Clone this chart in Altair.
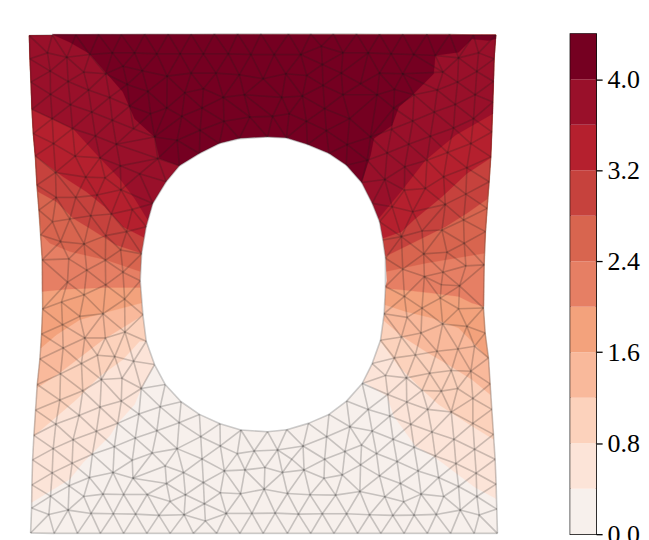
import altair as alt
import pandas as pd

# Colour-bar levels and colours
LEVELS = [0.0, 0.4, 0.8, 1.2, 1.6, 2.0, 2.4, 2.8, 3.2, 3.6, 4.0, 4.4]
COLORS = ["#f7f0ec", "#fce4d8", "#fcd2bc", "#f9b99b", "#f3a27c", "#e67f64",
          "#d8654f", "#c6423d", "#b5202e", "#99102a", "#750021"]
TICKS = [0.0, 0.8, 1.6, 2.4, 3.2, 4.0]

# Coordinates: crop-relative, three crop origins
TL = (20, 20); TR = (260, 20); BL = (20, 275); BR = (260, 275)

LEFT_TOP = [(28,40),(30,110),(33,180),(36,262),(40,335),(46,402),(51,490),(57,565),(62,640),(67,715)]
LEFT_BOT = [(68,98),(65,173),(60,248),(52,325),(47,402),(42,478),(38,552),(36,627),(35,697),(32,772)]
RIGHT_TOP = [(712,38),(707,110),(705,178),(703,240),(700,330),(697,405),(692,480),(686,560),(681,630),(677,730)]
RIGHT_BOT = [(675,95),(680,170),(690,245),(695,323),(700,400),(705,475),(710,550),(713,625),(715,700),(717,773)]
TOP_L = [(97,38),(168,38),(236,37),(305,37),(375,36),(446,36),(515,36),(585,35),(655,35),(725,35)]
TOP_R = [(88,35),(155,35),(223,35),(293,35),(362,36),(432,36),(505,36),(573,36),(645,39)]
BOT_L = [(103,773),(173,773),(242,773),(312,773),(382,773),(452,773),(522,773),(592,773),(662,773),(732,773)]
BOT_R = [(85,773),(155,773),(225,773),(296,773),(366,773),(436,773),(506,773),(576,773),(647,773)]
HOLE_TL = [(745,345),(660,350),(600,365),(540,395),(480,432),(440,480),(400,545),(380,615),(366,697),(362,778)]
HOLE_BL = [(370,115),(380,195),(405,265),(437,325),(485,377),(540,415),(602,443),(665,462),(745,467)]
HOLE_BR = [(83,461),(148,442),(210,415),(263,375),(310,322),(340,262),(365,192),(376,112),(380,30)]
HOLE_TR = [(383,778),(380,710),(372,655),(362,600),(340,545),(308,482),(262,430),(210,395),(145,368),(82,348)]

NODES_TL = [(83,92),(141,105),(210,97),(278,92),(345,92),(412,95),(482,95),(552,95),(627,95),(695,97),
 (91,147),(192,150),(258,155),(310,132),(368,146),(443,162),(515,153),(590,153),(660,158),(732,170),
 (92,217),(145,178),(206,204),(270,226),(323,187),(385,208),(496,212),(552,200),(612,226),(675,218),
 (97,290),(152,248),(216,270),(278,295),(330,252),(393,275),(442,258),(487,283),(548,258),(614,298),(692,285),
 (101,365),(158,320),(227,342),(290,367),(342,320),(405,345),(473,355),(542,325),
 (166,403),(241,408),(302,432),(360,456),(415,410),(107,452),(198,466),(256,468),
 (109,527),(168,527),(232,520),(304,504),(430,472),(150,592),(98,600),(213,582),(275,577),(338,563),
 (258,642),(321,630),(122,660),(193,667),(147,712),(257,716),(303,685),(201,746),(310,752)]
NODES_TR = [(45,97),(125,97),(187,72),(252,92),(328,92),(397,95),(465,97),(530,100),(600,107),(660,92),
 (12,170),(80,155),(143,160),(190,127),(247,153),(305,185),(362,153),(432,155),(553,150),(655,148),
 (68,226),(130,222),(192,190),(252,218),(355,218),(407,202),(466,218),(536,204),(597,180),(650,218),
 (90,275),(197,260),(272,290),(405,258),(527,270),(590,247),(645,290),
 (40,283),(142,298),(202,326),(335,345),(398,322),(462,297),(585,318),(515,343),
 (265,368),(325,415),(385,393),(450,367),(567,392),(637,365),
 (378,473),(438,435),(505,415),(625,438),(555,465),
 (400,555),(437,505),(500,500),(622,517),(560,548),
 (462,570),(428,645),(490,628),(550,625),(615,595),
 (495,697),(565,692),(617,665),(432,743),(497,765),(553,752),(622,733)]
NODES_BL = [(143,17),(258,25),(125,77),(193,55),(315,68),(180,120),(250,112),(128,145),(195,185),(257,185),(316,167),
 (130,215),(233,237),(285,241),(342,255),(185,262),(122,293),(245,310),(307,306),(365,337),
 (189,344),(120,372),(241,393),(305,375),(422,392),(178,418),(108,444),(294,442),(358,414),(479,440),
 (230,466),(160,491),(100,518),(347,486),(412,464),(544,482),(284,512),(218,535),(157,562),(97,591),
 (338,553),(398,531),(473,518),(603,510),(280,590),(209,605),(148,630),(92,661),(340,607),(437,570),(492,590),
 (548,549),(654,533),(705,525),(250,655),(192,662),(87,716),(145,703),(312,656),(383,656),(441,623),(552,620),
 (615,585),(677,582),(735,640),(498,657),(603,651),(664,654),(452,677),(555,684),(214,713),(281,714),(348,715),
 (418,719),(494,717),(558,736),(621,713),(698,713)]
NODES_BR = [(490,20),(548,25),(603,28),(437,60),(545,65),(600,97),(490,95),(445,123),(552,143),(625,150),
 (428,182),(487,170),(535,225),(598,218),(648,210),(407,245),(470,236),(380,298),(443,305),(513,291),(578,283),(637,285),
 (387,355),(490,343),(548,345),(597,337),(643,367),(328,400),(444,378),(507,400),(578,408),(393,420),(456,445),(643,442),
 (273,452),(340,465),(403,490),(520,468),(586,490),(648,520),(203,482),(132,510),(55,522),(258,527),(308,507),(353,533),
 (466,514),(530,540),(592,563),(653,592),(197,550),(98,550),(305,567),(415,557),(478,585),(540,605),(600,632),(655,662),
 (135,582),(70,590),(17,575),(250,597),(195,607),(362,600),(425,623),(15,640),(85,653),(153,657),(230,658),(303,647),
 (378,663),(435,678),(487,655),(555,662),(605,703),(662,718),(48,712),(118,715),(190,714),(263,714),(332,717),(402,719),
 (466,718),(533,716)]


def z(org, pts):
    return [(org[0] + a / 3, org[1] + b / 3) for a, b in pts]


CONTOURS = {
 0.4: (z(BL,[(35,680),(150,610),(190,560),(270,480),(294,442),(345,385),(365,337),(405,265)]),
       z(BR,[(310,315),(385,360),(405,420),(470,510),(530,545),(590,590),(650,635),(712,668)])),
 0.8: (z(BL,[(42,480),(100,430),(170,370),(240,300),(310,250),(360,195)]),
       z(BR,[(365,195),(420,270),(490,340),(540,385),(640,450),(705,490)])),
 1.2: (z(BL,[(52,335),(120,290),(185,240),(250,190),(316,150),(372,115)]),
       z(BR,[(372,130),(430,180),(500,225),(560,260),(640,310),(695,355)])),
 1.6: (z(BL,[(63,215),(110,175),(180,130),(250,110),(365,80)]),
       z(BR,[(378,85),(440,105),(520,125),(600,155),(640,195),(688,245)])),
 2.0: (z(BL,[(67,45),(140,38),(260,33),(362,33)]),
       z(BR,[(380,35),(430,40),(520,50),(600,60),(640,80),(676,90)])),
 2.4: (z(TL,[(66,640),(90,665),(150,690),(260,715),(362,750)]),
       z(TR,[(382,750),(500,725),(620,705),(677,695)])),
 2.8: (z(TL,[(55,510),(110,540),(160,590),(210,620),(290,670),(366,695)]),
       z(TR,[(378,705),(470,660),(560,615),(625,575),(686,532)])),
 3.2: (z(TL,[(46,402),(130,465),(200,510),(255,555),(310,615),(378,650)]),
       z(TR,[(372,650),(428,630),(465,595),(550,525),(625,455),(697,408)])),
 3.6: (z(TL,[(36,262),(160,320),(240,408),(300,470),(345,530),(385,595)]),
       z(TR,[(358,592),(430,505),(500,415),(590,340),(703,275)])),
 4.0: (z(TL,[(97,36),(150,60),(210,95),(258,150),(310,210),(345,290),(405,345),(420,410),(480,432)]),
       z(TR,[(308,482),(335,400),(345,350),(400,310),(420,255),(465,215),(525,155),(530,100),(600,90),(640,50),(690,55),(712,50)])),
}

left_edge = z(TL, LEFT_TOP) + z(BL, LEFT_BOT)
right_edge = z(TR, RIGHT_TOP) + z(BR, RIGHT_BOT)
top_edge = z(TL, TOP_L) + z(TR, TOP_R)
bot_edge = z(BL, BOT_L) + z(BR, BOT_R)
body = left_edge + bot_edge + right_edge[::-1] + top_edge[::-1]
hole = z(TL, HOLE_TL) + z(BL, HOLE_BL) + z(BR, HOLE_BR) + z(TR, HOLE_TR)


def inside(p, poly):
    x, y = p
    c = False
    n = len(poly)
    for i in range(n):
        x1, y1 = poly[i]
        x2, y2 = poly[(i + 1) % n]
        if (y1 > y) != (y2 > y) and x < (x2 - x1) * (y - y1) / (y2 - y1) + x1:
            c = not c
    return c


# Merge nodes seen in two crops
raw = left_edge + right_edge + top_edge + bot_edge + hole
raw += z(TL, NODES_TL) + z(TR, NODES_TR) + z(BL, NODES_BL) + z(BR, NODES_BR)
nodes = []
for p in raw:
    if all((p[0] - q[0]) ** 2 + (p[1] - q[1]) ** 2 > 7.5 ** 2 for q in nodes):
        nodes.append(p)


def delaunay(pts):
    P = list(pts) + [(-5000, -5000), (6000, -5000), (300, 8000)]
    n = len(pts)
    tris = [(n, n + 1, n + 2)]

    def incirc(t, p):
        ax, ay = P[t[0]][0] - p[0], P[t[0]][1] - p[1]
        bx, by = P[t[1]][0] - p[0], P[t[1]][1] - p[1]
        cx, cy = P[t[2]][0] - p[0], P[t[2]][1] - p[1]
        d = ((ax * ax + ay * ay) * (bx * cy - cx * by)
             - (bx * bx + by * by) * (ax * cy - cx * ay)
             + (cx * cx + cy * cy) * (ax * by - bx * ay))
        o = ((P[t[1]][0] - P[t[0]][0]) * (P[t[2]][1] - P[t[0]][1])
             - (P[t[1]][1] - P[t[0]][1]) * (P[t[2]][0] - P[t[0]][0]))
        return d * o > 0

    for i in range(n):
        bad = [t for t in tris if incirc(t, P[i])]
        count = {}
        for t in bad:
            for e in ((t[0], t[1]), (t[1], t[2]), (t[2], t[0])):
                k = tuple(sorted(e))
                count[k] = count.get(k, 0) + 1
        tris = [t for t in tris if t not in bad]
        for k, c in count.items():
            if c == 1:
                tris.append((k[0], k[1], i))
    return [t for t in tris if max(t) < n]


edges = set()
for t in delaunay(nodes):
    c = (sum(nodes[i][0] for i in t) / 3, sum(nodes[i][1] for i in t) / 3)
    if inside(c, body) and not inside(c, hole):
        for a, b in ((t[0], t[1]), (t[1], t[2]), (t[2], t[0])):
            edges.add(tuple(sorted((a, b))))

edge_rows = []
for k, (a, b) in enumerate(sorted(edges)):
    edge_rows.append({"e": k, "o": 0, "x": nodes[a][0], "y": nodes[a][1]})
    edge_rows.append({"e": k, "o": 1, "x": nodes[b][0], "y": nodes[b][1]})
edge_df = pd.DataFrame(edge_rows)

XS = alt.Scale(domain=[8, 555], nice=False, zero=False)
YS = alt.Scale(domain=[533.5, 31.5], nice=False, zero=False)


def poly_layer(points, fill):
    pts = list(points) + [points[0]]
    df = pd.DataFrame({"x": [p[0] for p in pts], "y": [p[1] for p in pts], "o": list(range(len(pts)))})
    return alt.Chart(df).mark_line(fill=fill, stroke=fill, strokeWidth=0.3, interpolate="linear").encode(
        x=alt.X("x:Q", scale=XS, axis=None),
        y=alt.Y("y:Q", scale=YS, axis=None),
        order="o:Q",
    )


layers = [poly_layer(body, COLORS[0])]
for i, lev in enumerate(LEVELS[1:-1]):
    lc, rc = CONTOURS[lev]
    rpart = [p for p in right_edge if p[1] < rc[-1][1]][::-1]
    lpart = [p for p in left_edge if p[1] < lc[0][1]]
    layers.append(poly_layer(lc + rc + rpart + lpart, COLORS[i + 1]))
layers.append(poly_layer(hole, "#ffffff"))

mesh_lines = alt.Chart(edge_df).mark_line(color="#1c1c1c", opacity=0.22, strokeWidth=1.6).encode(
    x=alt.X("x:Q", scale=XS, axis=None),
    y=alt.Y("y:Q", scale=YS, axis=None),
    detail="e:N",
    order="o:Q",
)
mesh = alt.layer(*layers, mesh_lines).properties(width=547, height=502)

bar_df = pd.DataFrame({"lo": LEVELS[:-1], "hi": LEVELS[1:], "c": COLORS})
cbar = alt.Chart(bar_df).mark_rect().encode(
    y=alt.Y("lo:Q", scale=alt.Scale(domain=[0, 4.4], nice=False, zero=False),
            axis=alt.Axis(orient="right", values=TICKS, format=".1f", title=None, grid=False,
                          labelFont="Liberation Serif", labelFontSize=26, labelColor="#000000",
                          tickColor="#000000", tickSize=6, tickWidth=1.3, labelPadding=5,
                          labelOverlap=False, labelBound=False, labelFlush=False,
                          domain=False)),
    y2="hi:Q",
    color=alt.Color("c:N", scale=None),
).properties(width=26, height=502, view=alt.ViewConfig(stroke="#000000", strokeWidth=1.4))

chart = alt.hconcat(mesh, cbar, spacing=16).properties(
    padding={"left": 0, "top": 21, "right": 0, "bottom": -4}
).configure_view(stroke=None)

chart.save("out.html", embed_options={"renderer": "svg", "actions": False})
